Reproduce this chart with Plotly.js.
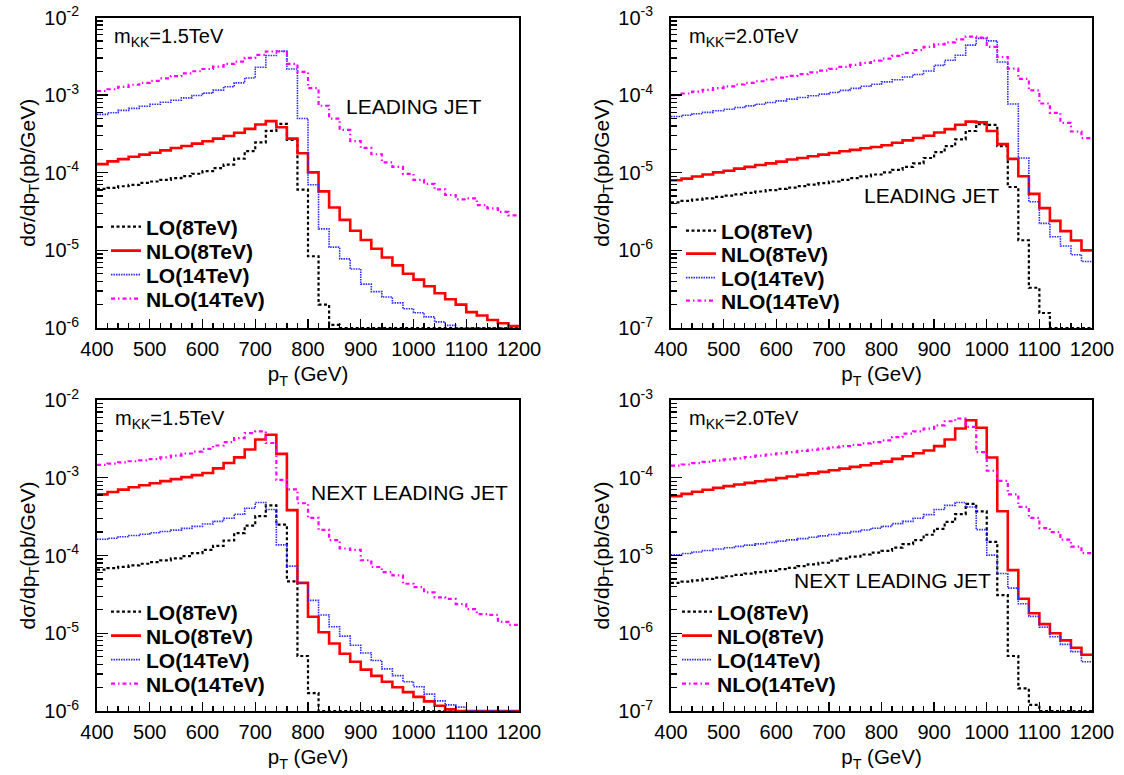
<!DOCTYPE html>
<html>
<head>
<meta charset="utf-8">
<script src="https://cdn.plot.ly/plotly-3.0.1.min.js"></script>
<style>
  html, body { margin: 0; padding: 0; background: #ffffff; }
  #chart { width: 1124px; height: 775px; }
</style>
</head>
<body>
<div id="chart"></div>
<script>
// p_T bin edges in GeV (20 GeV bins)
const ptEdges = [400, 420, 440, 460, 480, 500, 520, 540, 560, 580,
                 600, 620, 640, 660, 680, 700, 720, 740, 760, 780,
                 800, 820, 840, 860, 880, 900, 920, 940, 960, 980,
                 1000, 1020, 1040, 1060, 1080, 1100, 1120, 1140, 1160, 1180, 1200];

// series labels
const seriesNames = ["LO(8TeV)", "NLO(8TeV)", "LO(14TeV)", "NLO(14TeV)"];

// leading jet, m_KK = 1.5 TeV  (dsigma/dpT, pb/GeV)
const lead15_LO8 = [
  6.18e-5, 6.37e-5, 6.70e-5, 6.97e-5, 7.41e-5, 7.71e-5, 8.11e-5, 8.52e-5, 9.05e-5, 9.71e-5,
  1.05e-4, 1.15e-4, 1.27e-4, 1.52e-4, 1.90e-4, 2.46e-4, 3.46e-4, 4.27e-4, 2.64e-4, 6.07e-5,
  8.4e-6, 2.0e-6, 1.1e-6, 1e-6, 1e-6, 1e-6, 1e-6, 1e-6, 1e-6, 1e-6,
  1e-6, 1e-6, 1e-6, 1e-6, 1e-6, 1e-6, 1e-6, 1e-6, 1e-6, 1e-6];
const lead15_NLO8 = [
  1.29e-4, 1.40e-4, 1.50e-4, 1.61e-4, 1.71e-4, 1.81e-4, 1.94e-4, 2.08e-4, 2.21e-4, 2.37e-4,
  2.54e-4, 2.75e-4, 2.98e-4, 3.27e-4, 3.68e-4, 4.19e-4, 4.63e-4, 3.86e-4, 2.75e-4, 1.78e-4,
  1.01e-4, 5.75e-5, 3.57e-5, 2.47e-5, 1.79e-5, 1.36e-5, 1.05e-5, 8.1e-6, 6.4e-6, 5.0e-6,
  4.2e-6, 3.45e-6, 2.8e-6, 2.35e-6, 2.0e-6, 1.6e-6, 1.45e-6, 1.27e-6, 1.15e-6, 1.06e-6];
const lead15_LO14 = [
  5.65e-4, 5.94e-4, 6.37e-4, 6.76e-4, 7.18e-4, 7.62e-4, 8.09e-4, 8.59e-4, 9.21e-4, 9.88e-4,
  1.06e-3, 1.16e-3, 1.28e-3, 1.44e-3, 1.66e-3, 2.29e-3, 3.24e-3, 3.69e-3, 2.17e-3, 5.0e-4,
  7.0e-5, 1.89e-5, 1.10e-5, 7.76e-6, 5.75e-6, 3.67e-6, 2.94e-6, 2.51e-6, 2.11e-6, 1.77e-6,
  1.57e-6, 1.39e-6, 1.20e-6, 1.08e-6, 1e-6, 1e-6, 1e-6, 1e-6, 1e-6, 1e-6];
const lead15_NLO14 = [
  1.13e-3, 1.19e-3, 1.28e-3, 1.36e-3, 1.44e-3, 1.53e-3, 1.64e-3, 1.76e-3, 1.91e-3, 2.03e-3,
  2.17e-3, 2.33e-3, 2.52e-3, 2.70e-3, 3.02e-3, 3.30e-3, 3.65e-3, 3.65e-3, 2.52e-3, 1.99e-3,
  1.23e-3, 7.3e-4, 4.99e-4, 3.56e-4, 2.56e-4, 2.09e-4, 1.73e-4, 1.36e-4, 1.19e-4, 9.7e-5,
  8.1e-5, 7.2e-5, 6.1e-5, 5.17e-5, 4.54e-5, 4.68e-5, 3.83e-5, 3.47e-5, 3.13e-5, 2.83e-5];

// leading jet, m_KK = 2.0 TeV
const lead20_LO8 = [
  4.15e-6, 4.33e-6, 4.51e-6, 4.69e-6, 4.88e-6, 5.08e-6, 5.28e-6, 5.50e-6, 5.73e-6, 5.96e-6,
  6.20e-6, 6.45e-6, 6.71e-6, 7.05e-6, 7.34e-6, 7.71e-6, 8.1e-6, 8.53e-6, 8.96e-6, 9.5e-6,
  1.01e-5, 1.09e-5, 1.19e-5, 1.32e-5, 1.55e-5, 1.84e-5, 2.20e-5, 2.69e-5, 3.45e-5, 4.22e-5,
  4.13e-5, 2.2e-5, 6.55e-6, 1.35e-6, 3.3e-7, 1.56e-7, 1e-7, 1e-7, 1e-7, 1e-7];
const lead20_NLO8 = [
  8.0e-6, 8.4e-6, 8.96e-6, 9.5e-6, 1.01e-5, 1.06e-5, 1.13e-5, 1.19e-5, 1.26e-5, 1.32e-5,
  1.39e-5, 1.48e-5, 1.55e-5, 1.63e-5, 1.71e-5, 1.80e-5, 1.89e-5, 1.97e-5, 2.07e-5, 2.15e-5,
  2.26e-5, 2.43e-5, 2.61e-5, 2.80e-5, 3.0e-5, 3.3e-5, 3.65e-5, 4.15e-5, 4.55e-5, 4.45e-5,
  3.45e-5, 2.34e-5, 1.51e-5, 9.0e-6, 5.35e-6, 3.5e-6, 2.4e-6, 1.77e-6, 1.34e-6, 1.0e-6];
const lead20_LO14 = [
  5.3e-5, 5.5e-5, 5.75e-5, 6.0e-5, 6.3e-5, 6.58e-5, 6.92e-5, 7.27e-5, 7.64e-5, 8.03e-5,
  8.44e-5, 8.87e-5, 9.33e-5, 9.80e-5, 1.03e-4, 1.08e-4, 1.15e-4, 1.22e-4, 1.30e-4, 1.38e-4,
  1.48e-4, 1.58e-4, 1.71e-4, 1.84e-4, 2.05e-4, 2.42e-4, 2.81e-4, 3.27e-4, 4.41e-4, 5.38e-4,
  5.0e-4, 2.67e-4, 7.7e-5, 1.55e-5, 4.24e-6, 2.23e-6, 1.5e-6, 1.14e-6, 8.8e-7, 7.2e-7];
const lead20_NLO14 = [
  1.00e-4, 1.05e-4, 1.11e-4, 1.17e-4, 1.23e-4, 1.30e-4, 1.37e-4, 1.44e-4, 1.51e-4, 1.59e-4,
  1.68e-4, 1.77e-4, 1.86e-4, 1.96e-4, 2.07e-4, 2.18e-4, 2.31e-4, 2.45e-4, 2.60e-4, 2.78e-4,
  2.96e-4, 3.2e-4, 3.5e-4, 3.8e-4, 4.19e-4, 4.50e-4, 4.78e-4, 5.23e-4, 5.66e-4, 5.50e-4,
  4.19e-4, 3.10e-4, 2.19e-4, 1.62e-4, 1.15e-4, 7.8e-5, 5.9e-5, 4.4e-5, 3.4e-5, 2.8e-5];

// next-to-leading jet, m_KK = 1.5 TeV
const next15_LO8 = [
  6.6e-5, 6.87e-5, 7.16e-5, 7.45e-5, 7.83e-5, 8.23e-5, 8.65e-5, 9.18e-5, 9.84e-5, 1.07e-4,
  1.18e-4, 1.33e-4, 1.56e-4, 1.94e-4, 2.42e-4, 3.20e-4, 4.41e-4, 2.49e-4, 4.66e-5, 5.1e-6,
  1.7e-6, 1e-6, 1e-6, 1e-6, 1e-6, 1e-6, 1e-6, 1e-6, 1e-6, 1e-6,
  1e-6, 1e-6, 1e-6, 1e-6, 1e-6, 1e-6, 1e-6, 1e-6, 1e-6, 1e-6];
const next15_NLO8 = [
  6.12e-4, 6.56e-4, 7.03e-4, 7.55e-4, 8.02e-4, 8.51e-4, 9.04e-4, 9.60e-4, 1.02e-3, 1.08e-3,
  1.15e-3, 1.32e-3, 1.55e-3, 1.83e-3, 2.31e-3, 3.11e-3, 3.58e-3, 2.03e-3, 3.83e-4, 4.45e-5,
  1.63e-5, 1.03e-5, 7.37e-6, 5.46e-6, 4.30e-6, 3.41e-6, 2.83e-6, 2.38e-6, 2.02e-6, 1.75e-6,
  1.52e-6, 1.33e-6, 1.17e-6, 1.05e-6, 1e-6, 1e-6, 1e-6, 1e-6, 1e-6, 1e-6];
const next15_LO14 = [
  1.62e-4, 1.67e-4, 1.74e-4, 1.81e-4, 1.88e-4, 1.96e-4, 2.04e-4, 2.12e-4, 2.23e-4, 2.37e-4,
  2.54e-4, 2.75e-4, 3.01e-4, 3.40e-4, 4.06e-4, 4.8e-4, 3.9e-4, 1.37e-4, 7.3e-5, 4.4e-5,
  2.65e-5, 1.72e-5, 1.21e-5, 9.18e-6, 7.01e-6, 5.57e-6, 4.47e-6, 3.48e-6, 2.85e-6, 2.38e-6,
  2.05e-6, 1.65e-6, 1.35e-6, 1.20e-6, 1.12e-6, 1e-6, 1e-6, 1e-6, 1e-6, 1e-6];
const next15_NLO14 = [
  1.46e-3, 1.52e-3, 1.58e-3, 1.63e-3, 1.67e-3, 1.74e-3, 1.83e-3, 1.93e-3, 2.05e-3, 2.17e-3,
  2.35e-3, 2.60e-3, 2.87e-3, 3.24e-3, 3.76e-3, 3.95e-3, 2.8e-3, 9.4e-4, 7.1e-4, 4.7e-4,
  3.04e-4, 2.14e-4, 1.58e-4, 1.23e-4, 1.18e-4, 8.69e-5, 7.11e-5, 6.12e-5, 5.54e-5, 4.33e-5,
  3.91e-5, 3.36e-5, 2.90e-5, 2.76e-5, 2.37e-5, 2.04e-5, 1.76e-5, 1.72e-5, 1.40e-5, 1.28e-5];

// next-to-leading jet, m_KK = 2.0 TeV
const next20_LO8 = [
  4.44e-6, 4.61e-6, 4.80e-6, 4.99e-6, 5.20e-6, 5.41e-6, 5.63e-6, 5.86e-6, 6.10e-6, 6.35e-6,
  6.67e-6, 6.95e-6, 7.31e-6, 7.68e-6, 8.07e-6, 8.57e-6, 9.10e-6, 9.66e-6, 1.03e-5, 1.09e-5,
  1.15e-5, 1.26e-5, 1.40e-5, 1.58e-5, 1.85e-5, 2.2e-5, 2.7e-5, 3.4e-5, 4.6e-5, 3.7e-5,
  1.5e-5, 3.1e-6, 5.1e-7, 1.95e-7, 1.2e-7, 1e-7, 1e-7, 1e-7, 1e-7, 1e-7];
const next20_NLO8 = [
  5.8e-5, 6.2e-5, 6.6e-5, 7.0e-5, 7.4e-5, 7.8e-5, 8.2e-5, 8.6e-5, 9.0e-5, 9.4e-5,
  9.9e-5, 1.04e-4, 1.09e-4, 1.14e-4, 1.19e-4, 1.25e-4, 1.31e-4, 1.38e-4, 1.45e-4, 1.53e-4,
  1.61e-4, 1.75e-4, 1.89e-4, 2.07e-4, 2.24e-4, 2.55e-4, 3.1e-4, 4.3e-4, 5.5e-4, 4.4e-4,
  1.82e-4, 3.7e-5, 6.48e-6, 2.78e-6, 1.81e-6, 1.31e-6, 1.0e-6, 8.1e-7, 6.5e-7, 5.3e-7];
const next20_LO14 = [
  1.02e-5, 1.06e-5, 1.11e-5, 1.16e-5, 1.21e-5, 1.26e-5, 1.31e-5, 1.36e-5, 1.41e-5, 1.47e-5,
  1.53e-5, 1.59e-5, 1.65e-5, 1.72e-5, 1.79e-5, 1.86e-5, 1.94e-5, 2.03e-5, 2.13e-5, 2.24e-5,
  2.37e-5, 2.57e-5, 2.75e-5, 3.01e-5, 3.36e-5, 3.91e-5, 4.41e-5, 4.8e-5, 4.2e-5, 2.15e-5,
  1.01e-5, 5.86e-6, 3.8e-6, 2.4e-6, 1.65e-6, 1.2e-6, 9.0e-7, 7.2e-7, 5.8e-7, 4.3e-7];
const next20_NLO14 = [
  1.43e-4, 1.48e-4, 1.54e-4, 1.60e-4, 1.66e-4, 1.72e-4, 1.78e-4, 1.85e-4, 1.92e-4, 1.99e-4,
  2.06e-4, 2.13e-4, 2.21e-4, 2.29e-4, 2.37e-4, 2.46e-4, 2.55e-4, 2.65e-4, 2.76e-4, 2.88e-4,
  3.02e-4, 3.34e-4, 3.69e-4, 3.96e-4, 4.28e-4, 4.73e-4, 5.33e-4, 5.78e-4, 4.50e-4, 2.13e-4,
  1.23e-4, 9.12e-5, 6.12e-5, 4.23e-5, 3.04e-5, 2.25e-5, 2.0e-5, 1.6e-5, 1.3e-5, 1.07e-5];

// ---------------------------------------------------------------------------
const W = 1124, H = 775;
const FONT = "Liberation Sans, Arial, Helvetica, sans-serif";

// line style of each series, in legend order
const styles = [
  { color: "#000000", width: 2.2, dash: "3px,2.5px" },          // LO 8 TeV
  { color: "#ff0000", width: 2.6, dash: "solid" },              // NLO 8 TeV
  { color: "#2a2aff", width: 1.6, dash: "1.5px,1px" },          // LO 14 TeV
  { color: "#ff00ff", width: 2.2, dash: "4px,3px,1.5px,3px" }   // NLO 14 TeV
];

// panel frames in pixels: [left, right, top, bottom]
const panels = [
  { id: "", box: [97, 519, 17.5, 328], yr: [-6, -2],
    data: [lead15_LO8, lead15_NLO8, lead15_LO14, lead15_NLO14],
    mass: "m<sub>KK</sub>=1.5TeV", massPos: [428, -2.26],
    jet: "LEADING JET", jetPos: [868, -3.15],
    legX: 106, legY: [227, 251, 275, 299] },
  { id: "2", box: [671, 1092, 17.5, 328], yr: [-7, -3],
    data: [lead20_LO8, lead20_NLO8, lead20_LO14, lead20_NLO14],
    mass: "m<sub>KK</sub>=2.0TeV", massPos: [431, -3.26],
    jet: "LEADING JET", jetPos: [763, -5.29],
    legX: 681, legY: [231, 254, 278, 301] },
  { id: "3", box: [97, 519, 400, 711], yr: [-6, -2],
    data: [next15_LO8, next15_NLO8, next15_LO14, next15_NLO14],
    mass: "m<sub>KK</sub>=1.5TeV", massPos: [430, -2.245],
    jet: "NEXT LEADING JET", jetPos: [801, -3.19],
    legX: 106, legY: [612, 636, 660, 684] },
  { id: "4", box: [671, 1092, 400, 711], yr: [-7, -3],
    data: [next20_LO8, next20_NLO8, next20_LO14, next20_NLO14],
    mass: "m<sub>KK</sub>=2.0TeV", massPos: [430, -3.245],
    jet: "NEXT LEADING JET", jetPos: [629, -5.32],
    legX: 677, legY: [612, 636, 660, 684] }
];

// decade ticks with 10^n labels, and the 2..9 minor ticks between them
function logTicks(r) {
  const major = [], minor = [], text = [];
  for (let e = r[0]; e <= r[1]; e++) {
    major.push(Math.pow(10, e));
    text.push("10<sup>" + e + "</sup>");
    if (e < r[1]) for (let d = 2; d <= 9; d++) minor.push(d * Math.pow(10, e));
  }
  return { major, minor, text };
}

const traces = [];
const layout = {
  width: W, height: H,
  margin: { l: 0, r: 0, t: 0, b: 0 },
  paper_bgcolor: "#ffffff", plot_bgcolor: "#ffffff",
  font: { family: FONT, color: "#000000", size: 20 },
  showlegend: true,
  annotations: []
};

let legendCount = 0;
panels.forEach((p) => {
  const xa = "xaxis" + p.id, ya = "yaxis" + p.id;
  const xr = "x" + p.id, yr = "y" + p.id;
  const lt = logTicks(p.yr);

  layout[xa] = {
    domain: [p.box[0] / W, p.box[1] / W],
    anchor: yr, range: [400, 1200],
    showline: true, linecolor: "#000", linewidth: 2, mirror: true,
    showgrid: false, zeroline: false,
    ticks: "inside", ticklen: 9, tickwidth: 1.3, tickcolor: "#000",
    tickmode: "linear", tick0: 400, dtick: 100,
    tickfont: { family: FONT, size: 20 },
    ticklabelstandoff: 2,
    minor: { ticks: "inside", ticklen: 5, tickwidth: 1.3, tickcolor: "#000",
             tickmode: "linear", tick0: 400, dtick: 20, showgrid: false },
    title: { text: "p<sub>T</sub> (GeV)", font: { family: FONT, size: 20.5 }, standoff: 8 }
  };
  layout[ya] = {
    domain: [1 - p.box[3] / H, 1 - p.box[2] / H],
    anchor: xr, type: "log", range: p.yr,
    showline: true, linecolor: "#000", linewidth: 2, mirror: true,
    showgrid: false, zeroline: false,
    ticks: "inside", ticklen: 11, tickwidth: 1.3, tickcolor: "#000",
    tickmode: "array", tickvals: lt.major, ticktext: lt.text,
    tickfont: { family: FONT, size: 20 },
    ticklabelstandoff: 12,
    minor: { ticks: "inside", ticklen: 6, tickwidth: 1.3, tickcolor: "#000",
             tickmode: "array", tickvals: lt.minor, showgrid: false },
    title: { text: "d\u03c3/dp<sub>T</sub>(pb/GeV)", font: { family: FONT, size: 21 }, standoff: 3 }
  };

  p.data.forEach((vals, k) => {
    legendCount += 1;
    const legId = legendCount === 1 ? "legend" : "legend" + legendCount;
    traces.push({
      type: "scatter", mode: "lines",
      x: ptEdges, y: vals.concat([vals[vals.length - 1]]),
      xaxis: xr, yaxis: yr,
      name: "<b>" + seriesNames[k] + "</b>",
      legend: legId,
      line: { shape: "hv", color: styles[k].color, width: styles[k].width, dash: styles[k].dash },
      hoverinfo: "skip"
    });
    layout[legId] = {
      x: p.legX / W, y: 1 - p.legY[k] / H, xanchor: "left", yanchor: "middle",
      xref: "paper", yref: "paper",
      bgcolor: "rgba(0,0,0,0)", borderwidth: 0,
      font: { family: FONT, size: 21, color: "#000" },
      itemwidth: 30
    };
  });

  layout.annotations.push({
    xref: xr, yref: yr, x: p.massPos[0], y: p.massPos[1],
    xanchor: "left", yanchor: "middle", showarrow: false,
    text: p.mass, font: { family: FONT, size: 20, color: "#000" }
  });
  layout.annotations.push({
    xref: xr, yref: yr, x: p.jetPos[0], y: p.jetPos[1],
    xanchor: "left", yanchor: "middle", showarrow: false,
    text: p.jet, font: { family: FONT, size: 21, color: "#000" }
  });
});

Plotly.newPlot("chart", traces, layout, { staticPlot: true, displayModeBar: false });
</script>
</body>
</html>
